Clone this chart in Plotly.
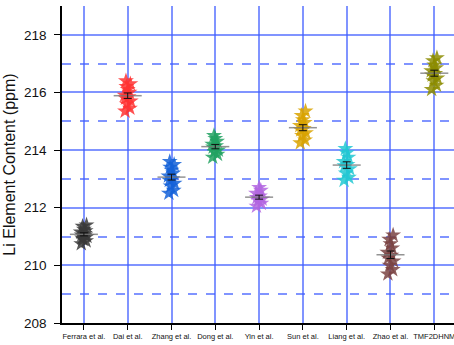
import numpy as np
import plotly.graph_objects as go

categories = ["Ferrara et al.", "Dai et al.", "Zhang et al.", "Dong et al.", "Yin et al.",
              "Sun et al.", "Liang et al.", "Zhao et al.", "TMF2DHNM"]
colors = ["#3a3a3a", "#ff3333", "#1462d8", "#22a262", "#b366e0",
          "#d9a300", "#22c8d2", "#7a4343", "#8c8c00"]

ferrara = [210.75, 210.85, 210.9, 211.0, 211.05, 211.1, 211.15, 211.2, 211.25, 211.35, 211.4, 210.95, 211.05]
dai = [215.35, 215.45, 215.6, 215.7, 215.8, 215.85, 215.9, 216.0, 216.1, 216.2, 216.3, 216.4]
zhang = [212.5, 212.6, 212.75, 212.85, 212.95, 213.0, 213.1, 213.2, 213.3, 213.4, 213.5, 213.6]
dong = [213.75, 213.85, 213.95, 214.0, 214.1, 214.15, 214.2, 214.3, 214.4, 214.5]
yin = [212.05, 212.15, 212.25, 212.3, 212.35, 212.4, 212.5, 212.6, 212.7]
sun = [214.25, 214.35, 214.5, 214.6, 214.7, 214.75, 214.85, 214.95, 215.05, 215.2, 215.35]
liang = [212.95, 213.05, 213.2, 213.35, 213.45, 213.5, 213.6, 213.75, 213.9, 214.05]
zhao = [209.7, 209.85, 210.0, 210.15, 210.25, 210.35, 210.45, 210.6, 210.75, 210.9, 211.05]
tmf = [216.1, 216.25, 216.4, 216.5, 216.6, 216.65, 216.75, 216.85, 216.95, 217.1, 217.2]

groups = [ferrara, dai, zhang, dong, yin, sun, liang, zhao, tmf]

jitter_pattern = [-0.06, 0.05, -0.02, 0.07, -0.05, 0.02, -0.07, 0.04, 0.0, -0.03, 0.06, -0.04, 0.03]

grid_col = "rgba(60,90,255,0.65)"

fig = go.Figure()
for i, (vals, col) in enumerate(zip(groups, colors)):
    xs = [i + jitter_pattern[k % len(jitter_pattern)] for k in range(len(vals))]
    fig.add_trace(go.Scatter(x=xs, y=vals, mode="markers",
                             marker=dict(symbol="star", size=12, color=col, opacity=0.85,
                                         line=dict(width=0)),
                             showlegend=False, hoverinfo="y"))
    arr = np.array(vals)
    mean = arr.mean()
    se = arr.std(ddof=1) / np.sqrt(len(arr))
    fig.add_trace(go.Scatter(x=[i - 0.32, i + 0.32], y=[mean, mean], mode="lines",
                             line=dict(color="rgba(120,120,120,0.8)", width=1.5),
                             showlegend=False, hoverinfo="skip"))
    fig.add_trace(go.Scatter(x=[i], y=[mean], mode="markers",
                             marker=dict(size=1, color="rgba(0,0,0,0)"),
                             error_y=dict(type="data", array=[se], color="#111111",
                                          thickness=1, width=4),
                             showlegend=False, hoverinfo="skip"))

fig.update_layout(
    width=454, height=345,
    margin=dict(l=62, r=0, t=6, b=22),
    paper_bgcolor="white", plot_bgcolor="white",
    font=dict(family="Liberation Sans, Arial, sans-serif", color="#111111"),
    xaxis=dict(range=[-0.5, 8.45], tickmode="array", tickvals=list(range(len(categories))),
               ticktext=categories, tickfont=dict(size=7.5), automargin=False,
               ticklabeloverflow="allow",
               showgrid=True, gridcolor=grid_col, gridwidth=1.5,
               showline=True, linecolor="black", linewidth=1.5,
               ticks="outside", ticklen=5, tickcolor="black", zeroline=False),
    yaxis=dict(range=[208, 219], tickmode="array", tickvals=[208, 210, 212, 214, 216, 218],
               tickfont=dict(size=13.5), automargin=False, ticklabelstandoff=5,
               title=dict(text="Li Element Content (ppm)", font=dict(size=16), standoff=4),
               showgrid=True, gridcolor=grid_col, gridwidth=1.5,
               minor=dict(tickvals=[209, 211, 213, 215, 217], showgrid=True,
                          gridcolor=grid_col, gridwidth=1.5, griddash="dash"),
               showline=True, linecolor="black", linewidth=1.5,
               ticks="outside", ticklen=6, tickcolor="black", zeroline=False),
)

fig.write_html("out.html", config={"displayModeBar": False},
               post_script="document.body.style.margin='0';")
